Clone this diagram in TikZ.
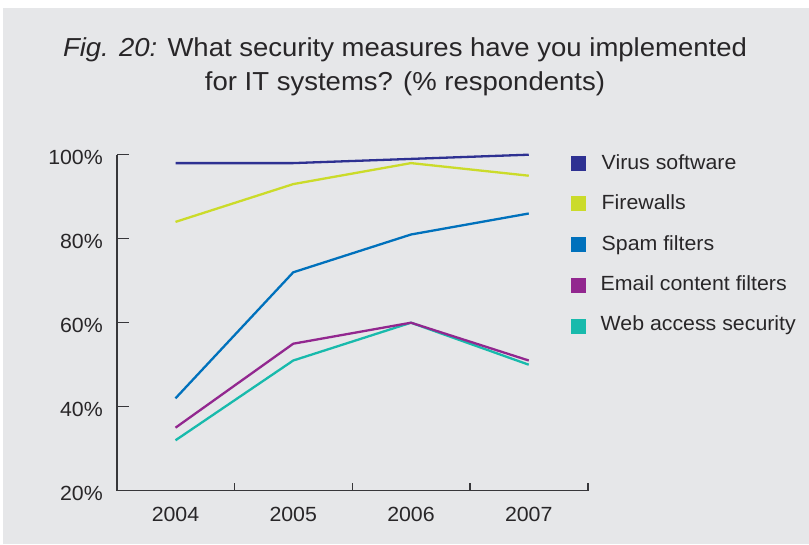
\documentclass[tikz,border=0pt]{standalone}
\usepackage{fontspec}
\setmainfont{Liberation Sans}
\newfontfamily\titlefont[FakeStretch=1.058]{Liberation Sans}
\newfontfamily\bodyfont[FakeStretch=1.04]{Liberation Sans}
\definecolor{bg}{RGB}{230,231,233}
\definecolor{txt}{RGB}{40,38,40}
\definecolor{axc}{RGB}{55,55,58}
\definecolor{cvirus}{RGB}{46,49,146}
\definecolor{cfire}{RGB}{203,219,42}
\definecolor{cspam}{RGB}{0,113,188}
\definecolor{cmail}{RGB}{146,39,143}
\definecolor{cweb}{RGB}{24,186,172}
\begin{document}
\begin{tikzpicture}[x=1pt,y=-1pt,
  lbl/.style={font=\bodyfont\fontsize{20.5}{24}\selectfont, text=txt, inner sep=0pt},
  ylab/.style={lbl, anchor=base east},
  xlab/.style={lbl, anchor=base},
  legtxt/.style={lbl, anchor=base west},
  legsq/.style={minimum size=15pt, inner sep=0pt, draw=none},
  series/.style={line width=2.3pt, line join=round},
  axis/.style={draw=axc, line width=1.4pt},
  ttl/.style={font=\titlefont\fontsize{26}{30}\selectfont, text=txt, anchor=base, inner sep=0pt}]
\useasboundingbox (0,0) rectangle (809,544);
\fill[bg] (3,8) rectangle (809,544);
% title
\node[ttl] (t1) at (405,56.7) {\textit{Fig. 20:} What security measures have you implemented};
\node[ttl] (t2) at (405,90.7) {for IT systems? (\% respondents)};
% axes
\coordinate (o) at (117,490.7);
\coordinate (top) at (117,154.7);
\coordinate (xend) at (588,490.7);
\draw[axis] (top) -- (o) -- (xend);
\foreach \v/\n in {40/a,60/b,80/c,100/d}{
  \coordinate (yt\n) at (117,{490.7-(\v-20)*4.2});
  \draw[axis] (yt\n) -- ++(11.5,0);
}
\foreach \xx/\n in {234.5/a,352.25/b,470/c,588/d}{
  \coordinate (xt\n) at (\xx,490.7);
  \draw[axis] (xt\n) -- ++(0,-8);
}
\node[ylab] (l100) at (103,164) {100\%};
\node[ylab] (l80) at (103,248) {80\%};
\node[ylab] (l60) at (103,332) {60\%};
\node[ylab] (l40) at (103,416) {40\%};
\node[ylab] (l20) at (103,500) {20\%};
\node[xlab] (x04) at (175.5,521) {2004};
\node[xlab] (x05) at (293.25,521) {2005};
\node[xlab] (x06) at (411,521) {2006};
\node[xlab] (x07) at (528.75,521) {2007};
% data
\def\py#1{{490.7-(#1-20)*4.2}}
\foreach \c/\a/\b/\cc/\d in {cweb/32/51/60/50, cmail/35/55/60/51, cspam/42/72/81/86, cfire/84/93/98/95, cvirus/98/98/99/100}{
  \draw[series, draw=\c] (175.5,\py{\a}) -- (293.25,\py{\b}) -- (411,\py{\cc}) -- (528.75,\py{\d});
}
% legend
\node[legsq, fill=cvirus] (s1) at (578.5,163) {};
\node[legsq, fill=cfire] (s2) at (578.5,203.5) {};
\node[legsq, fill=cspam] (s3) at (578.5,244.5) {};
\node[legsq, fill=cmail] (s4) at (578.5,285) {};
\node[legsq, fill=cweb] (s5) at (578.5,326) {};
\node[legtxt] (g1) at (601.5,169.3) {Virus software};
\node[legtxt] (g2) at (601.5,209) {Firewalls};
\node[legtxt] (g3) at (601.5,250) {Spam filters};
\node[legtxt] (g4) at (600.5,290) {Email content filters};
\node[legtxt] (g5) at (600.5,330.5) {Web access security};
\end{tikzpicture}
\end{document}
